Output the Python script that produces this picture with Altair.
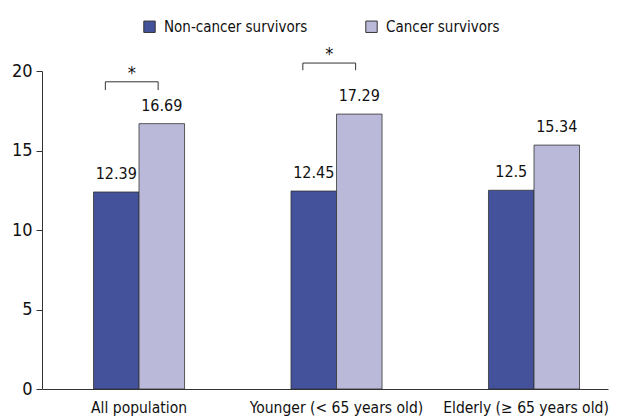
import altair as alt
import pandas as pd

groups = ["All population", "Younger (< 65 years old)", "Elderly (≥ 65 years old)"]
series = ["Non-cancer survivors", "Cancer survivors"]
non_cancer = [12.39, 12.45, 12.5]
cancer = [16.69, 17.29, 15.34]
value_labels_non = ["12.39", "12.45", "12.5"]
value_labels_can = ["16.69", "17.29", "15.34"]
colors = ["#43529b", "#bab9da"]

# significance brackets (groups with *)
sig_groups = ["All population", "Younger (< 65 years old)"]
bracket_top = [19.32, 20.5]
bracket_bottom = [18.8, 20.05]
star_y = [19.22, 20.42]

FONT = "DejaVu Sans Condensed, Liberation Sans, sans-serif"

rows = []
for g, a, b, la, lb in zip(groups, non_cancer, cancer, value_labels_non, value_labels_can):
    rows.append({"group": g, "series": series[0], "value": a, "label": la})
    rows.append({"group": g, "series": series[1], "value": b, "label": lb})
df = pd.DataFrame(rows)

br = pd.DataFrame({"group": sig_groups, "top": bracket_top, "bottom": bracket_bottom,
                   "star": star_y, "txt": ["*", "*"]})

xscale = alt.Scale(domain=groups, paddingInner=0.539, paddingOuter=0.2025, align=0.644)
yscale = alt.Scale(domain=[0, 20], nice=False)

x_enc = alt.X("group:N", scale=xscale, sort=groups, title=None,
              axis=alt.Axis(labelAngle=0, ticks=False, labelFontSize=15.5, labelFont=FONT,
                            labelColor="#111", domainColor="#333", labelPadding=11,
                            labelOffset={"condition": {"test": "datum.index == 1", "value": -8},
                                         "value": 0}))
y_enc = alt.Y("value:Q", scale=yscale, title=None,
              axis=alt.Axis(values=[0, 5, 10, 15, 20], grid=False, tickSize=6, labelFontSize=18,
                            labelFont=FONT, labelColor="#111", domainColor="#333",
                            tickColor="#333", labelPadding=4))

bars = alt.Chart(df).mark_bar(stroke="#333", strokeWidth=0.8).encode(
    x=x_enc,
    y=y_enc,
    xOffset=alt.XOffset("series:N", sort=series, scale=alt.Scale(domain=series, paddingInner=0, paddingOuter=0)),
    color=alt.Color("series:N", sort=series,
                    scale=alt.Scale(domain=series, range=colors),
                    legend=alt.Legend(title=None, orient="none", direction="horizontal",
                                      legendX=100, legendY=-52, symbolType="square",
                                      symbolSize=130, symbolStrokeColor="#333",
                                      symbolStrokeWidth=1, labelFontSize=15, labelFont=FONT,
                                      labelColor="#111", columnPadding=55, labelOffset=7)),
)

labels = alt.Chart(df).mark_text(dy=-10, baseline="bottom", fontSize=16, font=FONT, color="#111").encode(
    x=alt.X("group:N", scale=xscale, sort=groups),
    y=alt.Y("value:Q", scale=yscale),
    xOffset=alt.XOffset("series:N", sort=series, scale=alt.Scale(domain=series, paddingInner=0, paddingOuter=0)),
    text="label:N",
)

bracket_h = alt.Chart(br).mark_rule(color="#333", strokeWidth=1).encode(
    x=alt.X("group:N", scale=xscale, sort=groups, bandPosition=0.13),
    x2=alt.X2("group:N", bandPosition=0.71),
    y=alt.Y("top:Q", scale=yscale),
)
bracket_l = alt.Chart(br).mark_rule(color="#333", strokeWidth=1).encode(
    x=alt.X("group:N", scale=xscale, sort=groups, bandPosition=0.13),
    y=alt.Y("top:Q", scale=yscale),
    y2="bottom:Q",
)
bracket_r = alt.Chart(br).mark_rule(color="#333", strokeWidth=1).encode(
    x=alt.X("group:N", scale=xscale, sort=groups, bandPosition=0.71),
    y=alt.Y("top:Q", scale=yscale),
    y2="bottom:Q",
)
stars = alt.Chart(br).mark_text(baseline="bottom", fontSize=18, font=FONT, color="#111").encode(
    x=alt.X("group:N", scale=xscale, sort=groups, bandPosition=0.42),
    y=alt.Y("star:Q", scale=yscale),
    text="txt:N",
)

chart = alt.layer(bars, labels, bracket_h, bracket_l, bracket_r, stars).properties(
    width=566, height=318,
    autosize=alt.AutoSizeParams(type="none"),
    padding={"left": 34, "top": 63, "right": 8, "bottom": 30},
).configure(background="white").configure_view(stroke=None)

chart.save("out.html", embed_options={"renderer": "svg", "actions": False})
